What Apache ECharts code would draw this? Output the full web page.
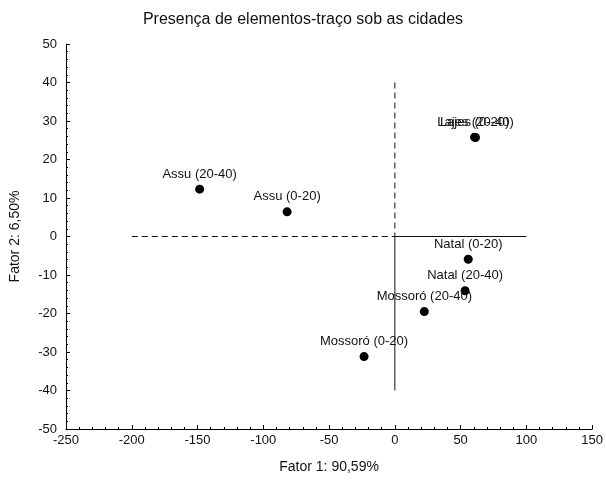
<!DOCTYPE html>
<html>
<head>
<meta charset="utf-8">
<script src="https://cdn.jsdelivr.net/npm/echarts@6/dist/echarts.min.js"></script>
<style>
  html, body { margin: 0; padding: 0; background: #fff; }
  #main { width: 606px; height: 483px; }
</style>
</head>
<body>
<div id="main"></div>
<script>
var names = ['Lajes (0-20)', 'Lajes (20-40)', 'Natal (0-20)', 'Natal (20-40)',
             'Mossoró (20-40)', 'Mossoró (0-20)', 'Assu (0-20)', 'Assu (20-40)'];
var fator1 = [60.6, 61.3, 55.8, 53.4, 22.4, -23.4, -81.9, -148.4];
var fator2 = [25.8, 25.7, -5.9, -14.1, -19.5, -31.2, 6.4, 12.3];

// reference lines through the origin
var vDashed = [[0, 40], [0, 0]];
var vSolid = [[0, 0], [0, -40]];
var hDashed = [[-200, 0], [0, 0]];
var hSolid = [[0, 0], [100, 0]];

var font = 'Liberation Sans, Arial, sans-serif';

var chart = echarts.init(document.getElementById('main'));

var points = names.map(function (n, i) {
    return { name: n, value: [fator1[i], fator2[i]] };
});

function refLine(data, type) {
    return {
        type: 'line',
        data: data,
        symbol: 'none',
        silent: true,
        lineStyle: { color: '#111', width: 1, type: type, opacity: 1 },
        z: 1
    };
}

chart.setOption({
    animation: false,
    title: {
        text: 'Presença de elementos-traço sob as cidades',
        left: 'center',
        top: 7,
        textStyle: { fontFamily: font, fontSize: 16, fontWeight: 'normal', color: '#111' }
    },
    grid: { left: 66, right: 11, top: 44, bottom: 54 },
    xAxis: {
        type: 'value',
        min: -250, max: 150, interval: 50,
        name: 'Fator 1: 90,59%',
        nameLocation: 'middle',
        nameGap: 31,
        nameTextStyle: { fontFamily: font, fontSize: 14, color: '#111' },
        axisLine: { onZero: false, lineStyle: { color: '#000' } },
        axisTick: { inside: true, length: 4, lineStyle: { color: '#000' } },
        minorTick: { show: true, splitNumber: 5, length: 2, lineStyle: { color: '#000' } },
        axisLabel: { fontFamily: font, fontSize: 13, color: '#111', margin: 5 },
        splitLine: { show: false }
    },
    yAxis: {
        type: 'value',
        min: -50, max: 50, interval: 10,
        name: 'Fator 2: 6,50%',
        nameLocation: 'middle',
        nameGap: 44,
        nameTextStyle: { fontFamily: font, fontSize: 14, color: '#111' },
        axisLine: { onZero: false, lineStyle: { color: '#000' } },
        axisTick: { inside: true, length: 4, lineStyle: { color: '#000' } },
        minorTick: { show: true, splitNumber: 5, length: 2, lineStyle: { color: '#000' } },
        axisLabel: { fontFamily: font, fontSize: 13, color: '#111', margin: 9 },
        splitLine: { show: false }
    },
    series: [
        refLine(vDashed, [6, 4]),
        refLine(vSolid, 'solid'),
        refLine(hDashed, [6, 4]),
        refLine(hSolid, 'solid'),
        {
            type: 'scatter',
            data: points,
            symbolSize: 9,
            itemStyle: { color: '#000', opacity: 1 },
            z: 3,
            label: {
                show: true,
                position: 'top',
                distance: 4,
                formatter: '{b}',
                fontFamily: font,
                fontSize: 13,
                color: '#111'
            }
        }
    ]
});
</script>
</body>
</html>
